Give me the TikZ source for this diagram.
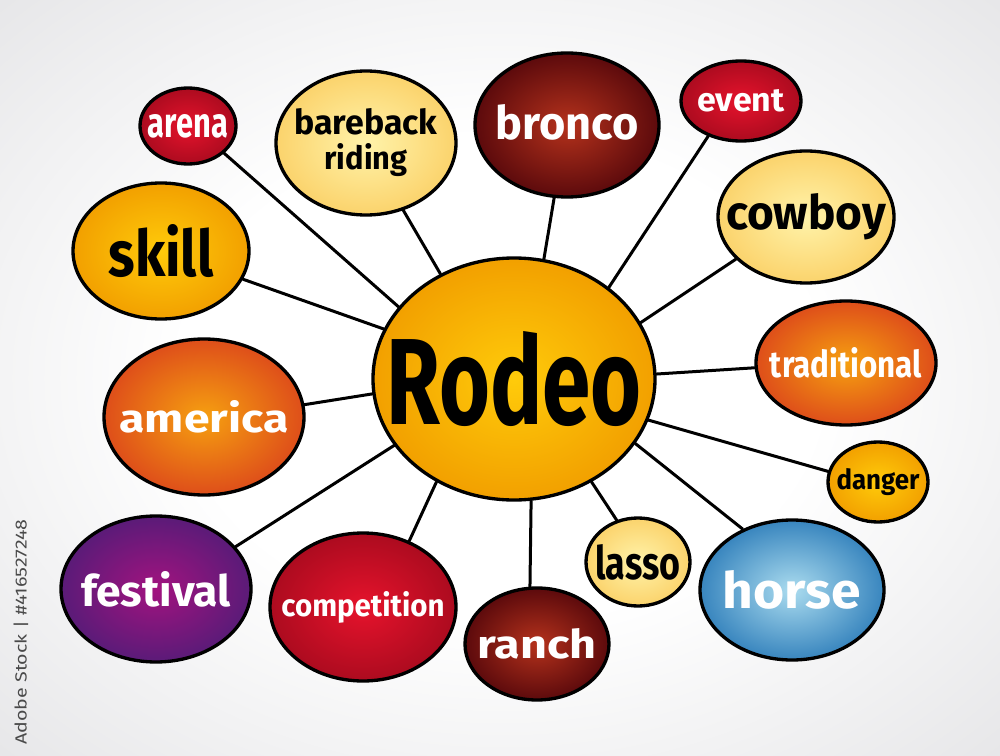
\documentclass[tikz,border=0pt]{standalone}
\usepackage{fontspec}
\setmainfont{Fira Sans}
\usepackage{graphicx}
\usetikzlibrary{shapes.geometric}
\newlength\pxu
\setlength\pxu{0.75pt}
\newcommand\fitw[3]{\makebox[0pt]{\resizebox{#1\pxu}{#2\pxu}{\bfseries #3}}}
\definecolor{bgout}{HTML}{E6E6E8}
\definecolor{redin}{HTML}{E6132C}
\definecolor{redout}{HTML}{AC0B1F}
\definecolor{marin}{HTML}{B5321C}
\definecolor{marout}{HTML}{5C0A0C}
\definecolor{lyin}{HTML}{FFF3AA}
\definecolor{lyout}{HTML}{FBD36C}
\definecolor{ybin}{HTML}{FFCB0A}
\definecolor{ybout}{HTML}{F2A000}
\definecolor{orin}{HTML}{F6A010}
\definecolor{orout}{HTML}{DE4E1A}
\definecolor{puin}{HTML}{A2137F}
\definecolor{puout}{HTML}{5A1B78}
\definecolor{blin}{HTML}{ABDCEF}
\definecolor{blout}{HTML}{3885BE}
\definecolor{wmgray}{HTML}{4A4A4A}
\pgfdeclareradialshading{bgshade}{\pgfpoint{0bp}{0bp}}{color(0bp)=(white); color(16bp)=(white); color(36bp)=(bgout); color(50bp)=(bgout)}
\tikzset{
  bub/.style 2 args={ellipse, draw=black, line width=2.5pt, inner sep=0pt,
    minimum width={1.5*#1 pt}, minimum height={1.5*#2 pt}},
  redb/.style={inner color=redin, outer color=redout, text=white},
  marb/.style={inner color=marin, outer color=marout, text=white},
  lyb/.style={inner color=lyin, outer color=lyout, text=black},
  ybb/.style={inner color=ybin, outer color=ybout, text=black},
  orb/.style={inner color=orin, outer color=orout, text=white},
  pub/.style={inner color=puin, outer color=puout, text=white},
  blb/.style={inner color=blin, outer color=blout, text=white},
  conn/.style={draw=black, line width=2.25pt, line cap=round}
}
\begin{document}
\begin{tikzpicture}[x=0.75pt, y=-0.75pt]
\useasboundingbox (0,0) rectangle (1000,756);
\shade[shading=bgshade] (0,0) rectangle (1000,756);

\node[bub={141}{121}, inner color=ybin, outer color=ybout] (rodeo) at (514,379) {\fitw{255}{93}{Rodeo}};
\node[bub={48}{38}, redb] (arena) at (188,126) {\fitw{80}{23}{arena}};
\node[bub={90}{72}, lyb, align=center, font=\fontsize{12}{26.25pt}\selectfont] (bare) at (366,143) {\fitw{143}{26}{bareback}\\\fitw{83}{26}{riding}};
\node[bub={92}{72}, marb] (bronco) at (567,125) {\raisebox{6\pxu}{\fitw{143}{35}{bronco}}};
\node[bub={60}{40}, redb] (event) at (741,101) {\fitw{87}{22}{event}};
\node[bub={88}{66}, lyb] (cowboy) at (806,217) {\fitw{160}{36}{cowboy}};
\node[bub={88}{68}, ybb] (skill) at (161,251) {\fitw{105}{52}{skill}};
\node[bub={100}{78}, orb] (america) at (204,417) {\fitw{169}{32}{america}};
\node[bub={90}{62}, orb] (trad) at (846,363) {\fitw{152}{30}{traditional}};
\node[bub={50}{40}, ybb] (danger) at (878,482) {\fitw{83}{21}{danger}};
\node[bub={95}{73}, pub] (fest) at (156,589) {\fitw{150}{35}{festival}};
\node[bub={93}{74}, redb] (comp) at (363,607) {\fitw{163}{25}{competition}};
\node[bub={72}{56}, marb] (ranch) at (537,644) {\fitw{119}{30}{ranch}};
\node[bub={52}{44}, lyb] (lasso) at (638,562) {\fitw{85}{35}{lasso}};
\node[bub={92}{70}, blb] (horse) at (792,590) {\fitw{138}{38}{horse}};

\draw[conn] (rodeo.148) -- (arena.-37);
\draw[conn] (rodeo.125) -- (bare.-61);
\draw[conn] (rodeo.76) -- (bronco.260);
\draw[conn] (rodeo.44) -- (event.227);
\draw[conn] (rodeo.24) -- (cowboy.211);
\draw[conn] (rodeo.159) -- (skill.-19);
\draw[conn] (rodeo.186) -- (america.7);
\draw[conn] (rodeo.2) -- (trad.183);
\draw[conn] (rodeo.-17) -- (danger.168);
\draw[conn] (rodeo.-28) -- (horse.129);
\draw[conn] (rodeo.-53) -- (lasso.117);
\draw[conn] (rodeo.-82) -- (ranch.97);
\draw[conn] (rodeo.233) -- (comp.55);
\draw[conn] (rodeo.209) -- (fest.28);

\node[rotate=90, text=wmgray, inner sep=0pt] (wm) at (21,632) {\resizebox{225\pxu}{13\pxu}{Adobe Stock | \#416527248}};
\end{tikzpicture}
\end{document}
